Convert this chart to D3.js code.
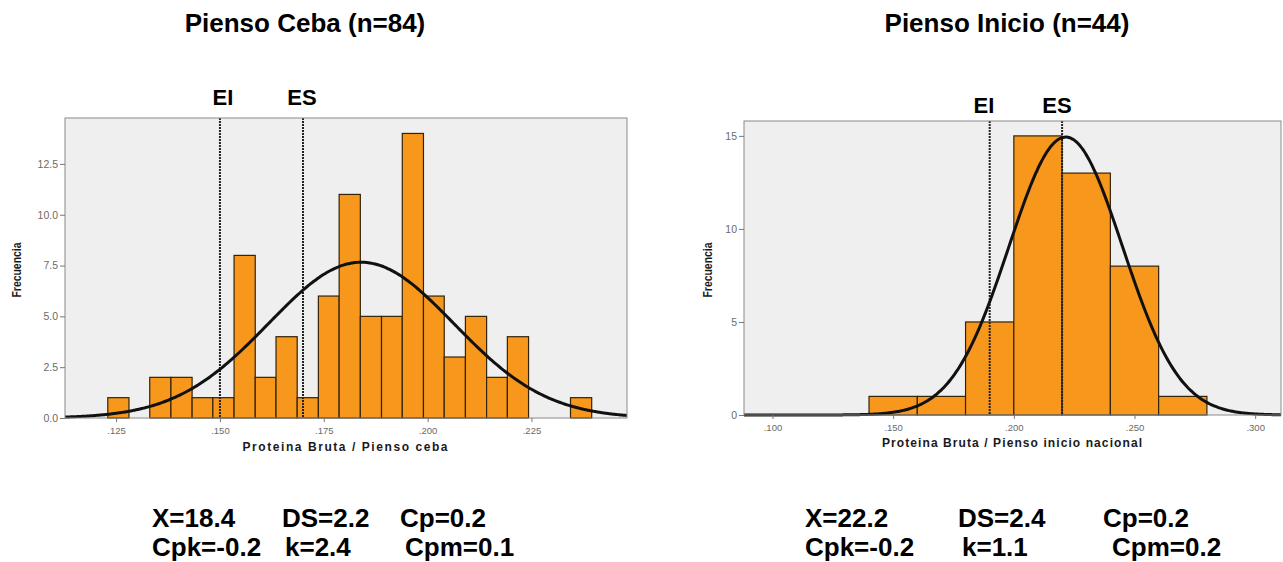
<!DOCTYPE html>
<html>
<head>
<meta charset="utf-8">
<script src="https://cdn.jsdelivr.net/npm/d3@7"></script>
<style>
  html, body { margin: 0; padding: 0; background: #fff; }
  svg { display: block; font-family: "Liberation Sans", Arial, sans-serif; }
</style>
</head>
<body>
<div id="chart"></div>
<script>
// Pienso Ceba (n=84)
const cebaEdges = [0.1230, 0.1281, 0.1331, 0.1382, 0.1433, 0.1483, 0.1534, 0.1585,
  0.1635, 0.1686, 0.1737, 0.1787, 0.1838, 0.1889, 0.1939, 0.1990, 0.2040, 0.2091,
  0.2142, 0.2192, 0.2243, 0.2294, 0.2344, 0.2395];
const cebaCounts = [1, 0, 2, 2, 1, 1, 8, 2, 4, 1, 6, 11, 5, 5, 14, 6, 3, 5, 2, 4, 0, 0, 1];
const cebaMean = 0.1840;
const cebaSd = 0.0223;
const cebaLimits = [0.15, 0.17];
const cebaXTicks = [0.125, 0.150, 0.175, 0.200, 0.225];
const cebaYTicks = [0, 2.5, 5, 7.5, 10, 12.5];
const cebaStats = [['X=18.4', 'DS=2.2', 'Cp=0.2'], ['Cpk=-0.2', 'k=2.4', 'Cpm=0.1']];

// Pienso Inicio (n=44)
const inicioEdges = [0.14, 0.16, 0.18, 0.20, 0.22, 0.24, 0.26, 0.28];
const inicioCounts = [1, 1, 5, 15, 13, 8, 1];
const inicioMean = 0.2215;
const inicioSd = 0.0235;
const inicioLimits = [0.19, 0.22];
const inicioXTicks = [0.100, 0.150, 0.200, 0.250, 0.300];
const inicioYTicks = [0, 5, 10, 15];
const inicioStats = [['X=22.2', 'DS=2.4', 'Cp=0.2'], ['Cpk=-0.2', 'k=1.1', 'Cpm=0.2']];

const svg = d3.select('#chart')
  .append('svg')
  .attr('width', 1283)
  .attr('height', 562);

const panels = [
  {
    title: 'Pienso Ceba (n=84)', titleX: 305,
    edges: cebaEdges, counts: cebaCounts, mean: cebaMean, sd: cebaSd, limits: cebaLimits,
    xTicks: cebaXTicks, yTicks: cebaYTicks, yFmt: d3.format('.1f'),
    xDomain: [0.1127, 0.248], xRange: [65, 627],
    yDomain: [0, 14.76], yRange: [418, 118],
    limitLabelY: 105, limitLabelX: [223, 302],
    xLabel: 'Proteina Bruta / Pienso ceba', xLabelX: 345, xLabelW: 205, xLabelY: 451, xTickY: 433,
    yLabelX: 17,
    stats: cebaStats, statX: [[152, 282, 400], [152, 285, 405]]
  },
  {
    title: 'Pienso Inicio (n=44)', titleX: 1007,
    edges: inicioEdges, counts: inicioCounts, mean: inicioMean, sd: inicioSd, limits: inicioLimits,
    xTicks: inicioXTicks, yTicks: inicioYTicks, yFmt: d3.format('d'),
    xDomain: [0.0882, 0.3107], xRange: [744, 1281],
    yDomain: [0, 15.8], yRange: [415, 121],
    limitLabelY: 113, limitLabelX: [984, 1057],
    xLabel: 'Proteina Bruta / Pienso inicio nacional', xLabelX: 1012, xLabelW: 260, xLabelY: 447, xTickY: 430,
    yLabelX: 708,
    stats: inicioStats, statX: [[805, 958, 1103], [805, 962, 1112]]
  }
];

const tickFmt = d => d3.format('.3f')(d).replace(/^0/, '');

panels.forEach(p => {
  const x = d3.scaleLinear().domain(p.xDomain).range(p.xRange);
  const y = d3.scaleLinear().domain(p.yDomain).range(p.yRange);
  const g = svg.append('g');

  // title
  g.append('text')
    .attr('x', p.titleX).attr('y', 32)
    .attr('text-anchor', 'middle')
    .attr('font-size', 26).attr('font-weight', 'bold')
    .text(p.title);

  // plot background
  g.append('rect')
    .attr('x', p.xRange[0]).attr('y', p.yRange[1])
    .attr('width', p.xRange[1] - p.xRange[0])
    .attr('height', p.yRange[0] - p.yRange[1])
    .attr('fill', '#efefef');

  // bars
  const bins = p.counts.map((c, i) => ({ x0: p.edges[i], x1: p.edges[i + 1], n: c }))
    .filter(b => b.n > 0);
  g.selectAll('rect.bar')
    .data(bins)
    .enter()
    .append('rect')
    .attr('class', 'bar')
    .attr('x', d => x(d.x0))
    .attr('y', d => y(d.n))
    .attr('width', d => x(d.x1) - x(d.x0))
    .attr('height', d => y(0) - y(d.n))
    .attr('fill', '#f7981d')
    .attr('stroke', '#33230a')
    .attr('stroke-width', 1.2);

  // spec limit lines
  g.selectAll('line.lim')
    .data(p.limits)
    .enter()
    .append('line')
    .attr('x1', d => x(d)).attr('x2', d => x(d))
    .attr('y1', p.yRange[1]).attr('y2', p.yRange[0])
    .attr('stroke', '#222')
    .attr('stroke-width', 2)
    .attr('stroke-dasharray', '2,1');

  g.selectAll('text.lim')
    .data(['EI', 'ES'])
    .enter()
    .append('text')
    .attr('x', (d, i) => p.limitLabelX[i])
    .attr('y', p.limitLabelY)
    .attr('text-anchor', 'middle')
    .attr('font-size', 22).attr('font-weight', 'bold')
    .text(d => d);

  // fitted normal curve
  const binW = p.edges[1] - p.edges[0];
  const total = d3.sum(p.counts);
  const pdf = v => total * binW * Math.exp(-0.5 * ((v - p.mean) / p.sd) ** 2) / (p.sd * Math.sqrt(2 * Math.PI));
  const xs = d3.range(0, 301).map(i => p.xDomain[0] + (p.xDomain[1] - p.xDomain[0]) * i / 300);
  g.append('path')
    .datum(xs)
    .attr('d', d3.line().x(d => x(d)).y(d => y(pdf(d))).curve(d3.curveBasis))
    .attr('fill', 'none')
    .attr('stroke', '#111')
    .attr('stroke-width', 3);

  // frame
  g.append('rect')
    .attr('x', p.xRange[0]).attr('y', p.yRange[1])
    .attr('width', p.xRange[1] - p.xRange[0])
    .attr('height', p.yRange[0] - p.yRange[1])
    .attr('fill', 'none')
    .attr('stroke', '#8a8a8a');

  // y axis
  const yAxis = g.append('g')
    .attr('transform', `translate(${p.xRange[0]},0)`)
    .call(d3.axisLeft(y).tickValues(p.yTicks).tickFormat(p.yFmt).tickSize(5).tickPadding(2));
  yAxis.select('.domain').remove();
  yAxis.selectAll('line').attr('stroke', '#777');
  yAxis.selectAll('text').attr('fill', '#6a6a6a').attr('font-size', 10.5)
    .attr('font-family', '"Liberation Sans", Arial, sans-serif');

  // x axis
  const xAxis = g.append('g')
    .attr('transform', `translate(0,${p.yRange[0]})`)
    .call(d3.axisBottom(x).tickValues(p.xTicks).tickFormat(tickFmt).tickSize(4).tickPadding(5));
  xAxis.select('.domain').remove();
  xAxis.selectAll('line').attr('stroke', '#777');
  xAxis.selectAll('text').attr('fill', '#6a6a6a').attr('font-size', 9.5)
    .attr('font-family', '"Liberation Sans", Arial, sans-serif');

  // axis titles
  g.append('text')
    .attr('x', p.xLabelX).attr('y', p.xLabelY)
    .attr('text-anchor', 'middle')
    .attr('font-size', 12).attr('font-weight', 'bold')
    .attr('fill', '#1a1a1a')
    .attr('textLength', p.xLabelW).attr('lengthAdjust', 'spacing')
    .text(p.xLabel);

  g.append('text')
    .attr('transform', `translate(${p.yLabelX + 4},270) rotate(-90)`)
    .attr('text-anchor', 'middle')
    .attr('font-size', 12).attr('font-weight', 'bold')
    .attr('fill', '#1a1a1a')
    .attr('textLength', 55).attr('lengthAdjust', 'spacingAndGlyphs')
    .text('Frecuencia');

  // capability stats
  p.stats.forEach((row, r) => {
    row.forEach((s, c) => {
      g.append('text')
        .attr('x', p.statX[r][c])
        .attr('y', r === 0 ? 527 : 556)
        .attr('font-size', 26).attr('font-weight', 'bold')
        .text(s);
    });
  });
});
</script>
</body>
</html>
